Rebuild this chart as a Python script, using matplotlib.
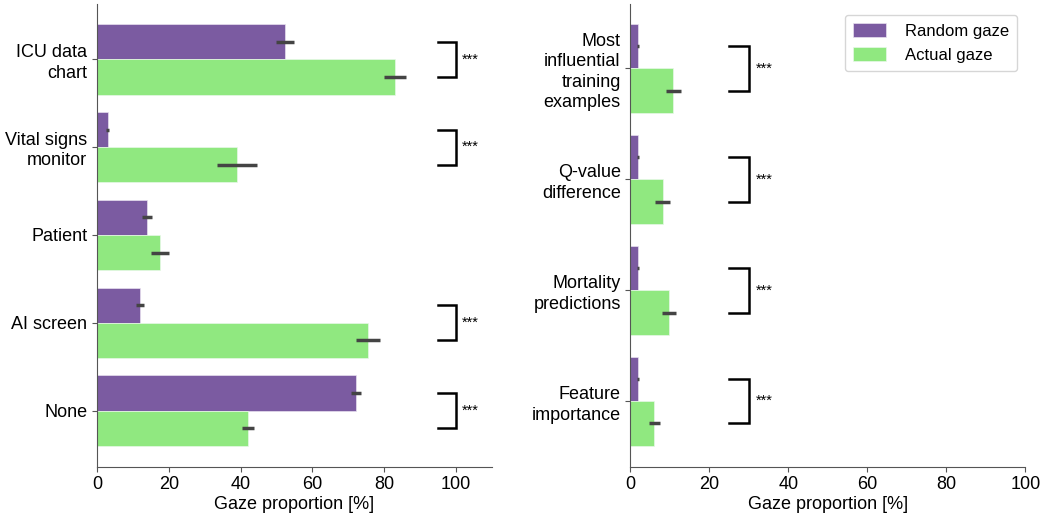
import matplotlib
matplotlib.use("Agg")
import matplotlib.pyplot as plt
import numpy as np

plt.rcParams["font.family"] = ["Liberation Sans", "DejaVu Sans"]

PURPLE = "#7b5ba1"
GREEN = "#90e880"
ERR = "#444444"

# left panel: where clinicians looked
LEFT_CATS = ["ICU data\nchart", "Vital signs\nmonitor", "Patient", "AI screen", "None"]
LEFT_RANDOM = [52.4, 3.0, 14.0, 12.0, 72.2]
LEFT_RANDOM_ERR = [2.4, 0.5, 1.4, 1.2, 1.3]
LEFT_ACTUAL = [83.0, 39.0, 17.6, 75.5, 42.0]
LEFT_ACTUAL_ERR = [3.0, 5.5, 2.6, 3.3, 1.7]
LEFT_SIG = [True, True, False, True, True]

# right panel: AI screen sub-areas
RIGHT_CATS = ["Most\ninfluential\ntraining\nexamples", "Q-value\ndifference",
              "Mortality\npredictions", "Feature\nimportance"]
RIGHT_RANDOM = [2.0, 2.0, 2.0, 2.0]
RIGHT_RANDOM_ERR = [0.3, 0.3, 0.3, 0.3]
RIGHT_ACTUAL = [10.9, 8.2, 9.8, 6.1]
RIGHT_ACTUAL_ERR = [1.8, 1.9, 1.8, 1.4]
RIGHT_SIG = [True, True, True, True]


def draw_panel(ax, cats, rnd, rnd_err, act, act_err, sig, xmax, br_x0, br_x1,
               pad_top, pad_bot):
    y = np.arange(len(cats))
    h = 0.4
    ekw = dict(ecolor=ERR, elinewidth=2.5, capsize=0)
    ax.barh(y - h / 2, rnd, height=h, color=PURPLE, xerr=rnd_err,
            error_kw=ekw, label="Random gaze", edgecolor="#e8e0f0", linewidth=0.5)
    ax.barh(y + h / 2, act, height=h, color=GREEN, xerr=act_err,
            error_kw=ekw, label="Actual gaze", edgecolor="#e8f8e8", linewidth=0.5)
    for yi, s in zip(y, sig):
        if not s:
            continue
        ax.plot([br_x0, br_x1, br_x1, br_x0],
                [yi - h / 2, yi - h / 2, yi + h / 2, yi + h / 2],
                color="black", lw=1.8, solid_joinstyle="miter")
        ax.text(br_x1 + (br_x1 - br_x0) * 0.35, yi, "***", fontsize=10.5,
                va="center", ha="left")
    ax.set_yticks(y)
    ax.set_yticklabels(cats, linespacing=1.25)
    ax.set_xlim(0, xmax)
    ax.set_ylim(len(cats) - 1 + pad_bot, -pad_top)
    ax.set_xticks([0, 20, 40, 60, 80, 100])
    ax.set_xlabel("Gaze proportion [%]", fontsize=13, labelpad=2)
    ax.tick_params(labelsize=13, colors="#555555", labelcolor="black")
    for side in ("top", "right"):
        ax.spines[side].set_visible(False)
    for side in ("left", "bottom"):
        ax.spines[side].set_color("#555555")


fig = plt.figure(figsize=(10.42, 5.14), dpi=100)
ax1 = fig.add_axes([0.093, 0.092, 0.379, 0.900])
ax2 = fig.add_axes([0.605, 0.092, 0.379, 0.900])

draw_panel(ax1, LEFT_CATS, LEFT_RANDOM, LEFT_RANDOM_ERR, LEFT_ACTUAL,
           LEFT_ACTUAL_ERR, LEFT_SIG, 110, 95, 100, 0.63, 0.64)
draw_panel(ax2, RIGHT_CATS, RIGHT_RANDOM, RIGHT_RANDOM_ERR, RIGHT_ACTUAL,
           RIGHT_ACTUAL_ERR, RIGHT_SIG, 100, 25, 30, 0.58, 0.59)

ax2.legend(loc="upper right", fontsize=12, frameon=True, bbox_to_anchor=(1.0, 0.995),
           handlelength=2.0, handleheight=0.9, handletextpad=1.1, borderpad=0.5)

fig.savefig("out.png", dpi=100)
